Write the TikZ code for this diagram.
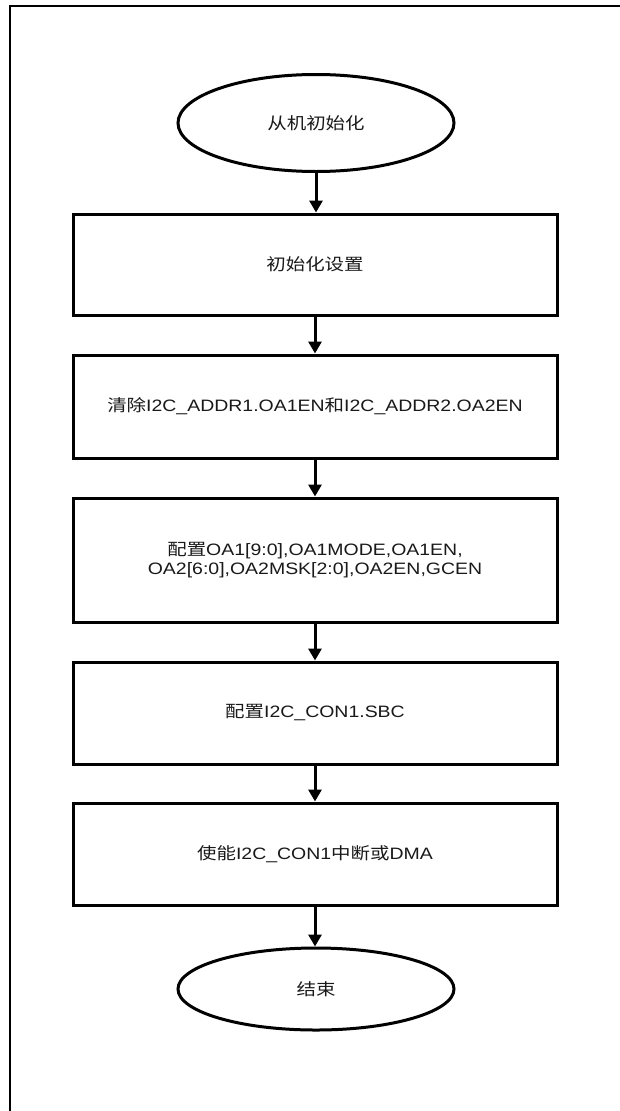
\documentclass[tikz,border=0pt]{standalone}
\usepackage{fontspec}
\setmainfont{Liberation Sans}[FakeStretch=1.18]
\newfontfamily\cjk{Noto Sans CJK SC}[FakeStretch=1.18]
\usetikzlibrary{shapes.geometric,arrows.meta}
\begin{document}
\begin{tikzpicture}[x=1pt,y=-1pt,
  every node/.style={font=\fontsize{16.5}{18.5}\selectfont, text=black!90},
  stepbox/.style={draw, line width=3pt, minimum width=484pt, inner sep=0pt, align=center},
  term/.style={draw, ellipse, line width=3pt, minimum width=276pt, inner sep=0pt},
  conn/.style={line width=3pt, -{Triangle[width=13pt,length=12pt]}}]
\useasboundingbox (0,0) rectangle (619,1111);
\draw[line width=2pt] (10,1115) -- (10,6) -- (625,6);
\node[term, minimum height=97pt] (s) at (316,123) {{\cjk 从机初始化}};
\node[stepbox, minimum height=101pt] (b1) at (315,264.5) {{\cjk 初始化设置}};
\node[stepbox, minimum height=103pt] (b2) at (315,406.5) {{\cjk 清除}I2C\_ADDR1.OA1EN{\cjk 和}I2C\_ADDR2.OA2EN};
\node[stepbox, minimum height=124pt] (b3) at (315,560) {{\cjk 配置}OA1[9:0],OA1MODE,OA1EN,\\OA2[6:0],OA2MSK[2:0],OA2EN,GCEN};
\node[stepbox, minimum height=102pt] (b4) at (315,713) {{\cjk 配置}I2C\_CON1.SBC};
\node[stepbox, minimum height=102pt] (b5) at (315,854) {{\cjk 使能}I2C\_CON1{\cjk 中断或}DMA};
\node[term, minimum height=82pt] (e) at (316,989) {{\cjk 结束}};
\draw[conn] (s.south) -- (s.south |- b1.north);
\draw[conn] (b1.south) -- (b2.north);
\draw[conn] (b2.south) -- (b3.north);
\draw[conn] (b3.south) -- (b4.north);
\draw[conn] (b4.south) -- (b5.north);
\draw[conn] (b5.south) -- (b5.south |- e.north);
\end{tikzpicture}
\end{document}
